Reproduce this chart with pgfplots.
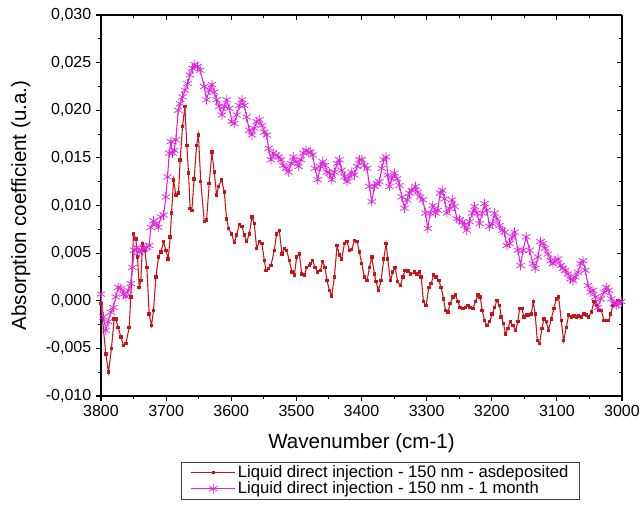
\documentclass[border=0pt]{standalone}
\usepackage{fontspec}
\setmainfont{Liberation Sans}
\usepackage{pgfplots}
\usepackage{pgfplotstable}
\pgfplotsset{compat=1.18}

\definecolor{asdepRed}{RGB}{196,22,26}
\definecolor{monthMag}{RGB}{222,36,222}

% FTIR absorption, liquid direct injection, 150 nm film
\pgfplotstableread{
wn      a
3800.0 -0.0003
3792.6 -0.0056
3788.5 -0.0075
3783.9 -0.0050
3779.8 -0.0019
3777.2 -0.0019
3773.6 -0.0028
3769.5 -0.0038
3765.4 -0.0047
3761.8 -0.0045
3756.7 -0.0028
3754.2  0.0004
3750.1  0.0070
3746.5  0.0065
3743.9  0.0046
3741.3  0.0014
3738.8  0.0021
3736.2  0.0060
3732.6  0.0053
3729.6  0.0035
3726.0 -0.0014
3722.4 -0.0026
3719.3 -0.0010
3715.7  0.0025
3711.6  0.0046
3708.0  0.0051
3703.9  0.0062
3700.4  0.0053
3696.8  0.0044
3693.7  0.0067
3691.7  0.0092
3688.6  0.0127
3685.0  0.0111
3681.0  0.0113
3678.4  0.0148
3674.8  0.0183
3671.2  0.0204
3668.2  0.0163
3665.6  0.0134
3663.1  0.0097
3660.5  0.0095
3656.9  0.0128
3653.3  0.0163
3650.4  0.0174
3646.8  0.0125
3641.4  0.0083
3637.9  0.0085
3633.8  0.0123
3629.7  0.0156
3626.1  0.0135
3622.5  0.0111
3619.4  0.0120
3614.8  0.0127
3610.7  0.0114
3607.1  0.0086
3604.0  0.0076
3599.4  0.0070
3595.3  0.0061
3591.7  0.0069
3587.6  0.0080
3583.5  0.0078
3580.0  0.0069
3576.4  0.0062
3572.3  0.0070
3568.2  0.0088
3564.6  0.0081
3561.0  0.0055
3556.9  0.0062
3552.8  0.0060
3549.2  0.0042
3546.7  0.0032
3542.6  0.0034
3539.0  0.0037
3533.9  0.0053
3530.3  0.0070
3526.2  0.0074
3522.1  0.0049
3518.5  0.0055
3514.9  0.0053
3510.8  0.0042
3506.7  0.0030
3503.1  0.0027
3499.5  0.0046
3495.4  0.0049
3491.8  0.0028
3487.7  0.0027
3484.2  0.0035
3480.1  0.0037
3478.5  0.0039
3474.9  0.0042
3471.3  0.0035
3467.2  0.0030
3463.1  0.0032
3459.5  0.0041
3456.0  0.0035
3452.9  0.0021
3449.3  0.0011
3445.7  0.0005
3441.6  0.0025
3437.5  0.0058
3433.9  0.0048
3430.4  0.0044
3426.2  0.0060
3422.2  0.0062
3418.6  0.0053
3415.0  0.0054
3410.9  0.0063
3406.8  0.0062
3403.2  0.0051
3399.6  0.0039
3395.5  0.0025
3391.4  0.0021
3387.8  0.0035
3384.2  0.0046
3380.1  0.0028
3377.6  0.0020
3374.0  0.0011
3369.9  0.0021
3365.8  0.0044
3362.2  0.0060
3359.7  0.0044
3355.6  0.0021
3352.0  0.0030
3348.4  0.0035
3344.3  0.0020
3340.2  0.0016
3336.6  0.0025
3333.0  0.0032
3328.9  0.0031
3324.8  0.0028
3318.6  0.0030
3315.1  0.0028
3311.0  0.0030
3308.4  0.0025
3304.8 -0.0001
3300.7 -0.0005
3296.6  0.0014
3293.0  0.0018
3289.4  0.0027
3285.3  0.0025
3281.2  0.0021
3277.6  0.0014
3274.1  0.0002
3271.0 -0.0010
3267.4 -0.0012
3263.8 -0.0003
3259.7  0.0004
3255.6  0.0006
3252.0 -0.0001
3248.5 -0.0007
3244.4 -0.0008
3240.3 -0.0007
3236.7 -0.0005
3233.1 -0.0007
3229.0 -0.0008
3224.9 -0.0001
3221.3  0.0006
3217.7  0.0004
3214.6 -0.0010
3211.0 -0.0021
3207.5 -0.0026
3203.4 -0.0022
3199.3 -0.0014
3195.7 -0.0007
3192.1  0.0000
3188.0 -0.0005
3185.5 -0.0017
3181.9 -0.0024
3178.8 -0.0035
3175.2 -0.0029
3171.6 -0.0022
3167.5 -0.0026
3163.4 -0.0031
3159.8 -0.0022
3157.2 -0.0008
3153.7 -0.0008
3150.6 -0.0017
3147.0 -0.0015
3143.4 -0.0015
3139.3 -0.0014
3136.2 -0.0001
3133.2 -0.0014
3130.1 -0.0042
3126.5 -0.0045
3122.9 -0.0029
3119.8 -0.0019
3116.3 -0.0022
3112.7 -0.0031
3108.6 -0.0019
3104.5 -0.0008
3100.9  0.0002
3097.3  0.0004
3093.2 -0.0021
3089.6 -0.0042
3085.5 -0.0028
3081.9 -0.0015
3077.8 -0.0017
3073.7 -0.0016
3070.1 -0.0017
3066.6 -0.0016
3062.5 -0.0017
3058.4 -0.0014
3054.8 -0.0015
3051.2 -0.0017
3047.1 -0.0012
3043.0 -0.0001
3039.4 -0.0005
3035.8 -0.0010
3031.7 -0.0010
3027.7 -0.0021
3024.0 -0.0021
3020.5 -0.0021
3017.4 -0.0014
3013.8 -0.0005
3010.2 -0.0003
3006.1  0.0000
3002.0 -0.0001
}\asdeposited

\pgfplotstableread{
wn      a
3800.0  0.0007
3796.2 -0.0017
3792.6 -0.0031
3789.0 -0.0022
3784.9 -0.0012
3780.8 -0.0007
3777.2  0.0004
3773.6  0.0014
3769.5  0.0013
3765.4  0.0007
3761.8  0.0004
3758.2  0.0011
3754.2  0.0018
3751.6  0.0035
3749.0  0.0053
3744.9  0.0056
3741.3  0.0051
3737.7  0.0053
3733.7  0.0055
3729.6  0.0056
3726.0  0.0058
3723.4  0.0077
3719.3  0.0084
3715.7  0.0081
3712.2  0.0077
3708.0  0.0088
3703.9  0.0090
3700.4  0.0109
3697.8  0.0130
3695.2  0.0155
3692.6  0.0167
3690.1  0.0155
3687.5  0.0158
3685.0  0.0169
3681.4  0.0200
3678.4  0.0207
3674.8  0.0214
3671.2  0.0221
3667.1  0.0228
3663.6  0.0237
3659.5  0.0244
3655.9  0.0248
3651.8  0.0246
3647.7  0.0242
3641.4  0.0225
3637.9  0.0211
3633.8  0.0221
3629.7  0.0227
3626.1  0.0219
3622.5  0.0211
3618.4  0.0204
3614.3  0.0195
3610.7  0.0204
3607.1  0.0211
3603.0  0.0202
3598.9  0.0188
3595.3  0.0186
3591.7  0.0195
3587.6  0.0205
3583.5  0.0211
3580.0  0.0205
3576.4  0.0193
3572.3  0.0179
3568.2  0.0174
3564.6  0.0181
3561.0  0.0188
3556.9  0.0190
3552.8  0.0184
3549.2  0.0177
3545.6  0.0174
3542.6  0.0160
3539.0  0.0148
3535.4  0.0155
3531.3  0.0153
3527.2  0.0151
3523.6  0.0148
3520.0  0.0142
3515.9  0.0139
3511.8  0.0135
3508.2  0.0144
3504.7  0.0151
3500.6  0.0146
3496.5  0.0141
3492.9  0.0148
3489.3  0.0155
3485.2  0.0158
3481.1  0.0156
3478.5  0.0156
3474.9  0.0153
3471.3  0.0139
3467.2  0.0127
3463.1  0.0141
3459.5  0.0146
3456.0  0.0142
3452.9  0.0135
3449.3  0.0134
3445.7  0.0127
3441.6  0.0135
3437.5  0.0144
3433.9  0.0148
3430.4  0.0137
3426.2  0.0130
3422.2  0.0125
3418.6  0.0130
3415.0  0.0135
3410.9  0.0132
3406.8  0.0141
3403.2  0.0148
3399.6  0.0148
3395.5  0.0142
3391.4  0.0139
3387.8  0.0120
3384.2  0.0104
3380.1  0.0120
3376.1  0.0123
3372.5  0.0125
3368.9  0.0139
3365.8  0.0148
3362.2  0.0151
3359.7  0.0132
3357.1  0.0120
3353.5  0.0128
3349.4  0.0134
3345.3  0.0128
3341.7  0.0121
3338.1  0.0109
3334.0  0.0097
3329.9  0.0106
3326.4  0.0113
3322.8  0.0116
3317.1  0.0120
3313.5  0.0114
3309.9  0.0109
3305.8  0.0106
3301.7  0.0092
3298.1  0.0076
3294.6  0.0092
3290.5  0.0100
3286.4  0.0092
3282.8  0.0095
3279.2  0.0113
3276.1  0.0116
3272.5  0.0107
3268.9  0.0092
3264.8  0.0097
3260.8  0.0106
3257.2  0.0099
3253.6  0.0086
3249.5  0.0085
3245.4  0.0083
3241.8  0.0079
3238.2  0.0074
3234.1  0.0083
3230.0  0.0092
3226.4  0.0099
3222.8  0.0092
3218.7  0.0081
3214.6  0.0092
3211.1  0.0102
3207.5  0.0095
3203.4  0.0078
3199.3  0.0081
3195.7  0.0092
3192.1  0.0086
3188.0  0.0079
3183.9  0.0074
3180.3  0.0072
3176.7  0.0058
3172.6  0.0060
3168.5  0.0067
3164.9  0.0072
3159.8  0.0053
3155.7  0.0037
3152.1  0.0053
3147.0  0.0067
3141.9  0.0053
3136.7  0.0039
3133.2  0.0034
3129.1  0.0046
3125.0  0.0062
3121.4  0.0060
3117.8  0.0055
3113.7  0.0049
3109.6  0.0042
3106.0  0.0039
3102.4  0.0042
3098.3  0.0044
3094.2  0.0037
3090.6  0.0034
3087.1  0.0032
3083.0  0.0028
3078.9  0.0023
3075.3  0.0021
3071.7  0.0025
3067.6  0.0030
3063.5  0.0039
3059.9  0.0042
3056.3  0.0032
3052.2  0.0016
3048.1  0.0009
3044.5  0.0011
3041.0  0.0004
3036.9 -0.0007
3032.8  0.0002
3027.6  0.0009
3024.0  0.0014
3020.5  0.0011
3016.4  0.0002
3012.3 -0.0003
3008.7 -0.0005
3005.1 -0.0003
3001.0 -0.0001
}\onemonth

\pgfplotsset{
  ftirframe/.style={
    scale only axis,
    width=390.75pt, height=285.75pt,
    at={(0,0)}, anchor=south west,
    x dir=reverse,
    xmin=3000, xmax=3800, ymin=-0.01, ymax=0.03,
    xtick={3000,3100,3200,3300,3400,3500,3600,3700,3800},
    ytick={-0.010,-0.005,0,0.005,0.010,0.015,0.020,0.025,0.030},
    minor x tick num=1, minor y tick num=1,
    major tick length=3.8pt, minor tick length=2.6pt,
    every tick/.style={black, line width=0.8pt},
    axis line style={black, line width=0.9pt},
    scaled y ticks=false,
    /pgf/number format/assume math mode=true,
    tick label style={font=\fontsize{12}{14}\selectfont},
    xticklabel style={/pgf/number format/1000 sep={}},
    yticklabel style={/pgf/number format/.cd, fixed, fixed zerofill,
      precision=3, use comma},
  }
}

\begin{document}
\begin{tikzpicture}
\useasboundingbox (-75.75pt,-85.5pt) rectangle (404.25pt,297pt);

% mirrored frame: top and right ticks point inwards, no labels
\begin{axis}[ftirframe,
  axis x line*=top, axis y line*=right,
  tick align=inside,
  xticklabels={}, yticklabels={}]
\end{axis}

\begin{axis}[ftirframe,
  axis x line*=bottom, axis y line*=left,
  tick align=outside,
  xlabel={Wavenumber (cm-1)},
  ylabel={Absorption coefficient (u.a.)},
  label style={font=\fontsize{15.4}{18}\selectfont},
  xlabel style={at={(axis description cs:0.5,-0.124)}, anchor=center},
  ylabel style={at={(axis description cs:-0.154,0.5)}, anchor=center},
  legend style={at={(axis description cs:0.1536,-0.173)}, anchor=north west,
    draw=black!75, line width=0.6pt, fill=white,
    font=\fontsize{12.5}{14}\selectfont,
    inner xsep=7pt, inner ysep=1pt, row sep=-1.5pt,
    nodes={inner sep=1.5pt}},
  legend cell align=left,
  legend image code/.code={%
    \draw[mark repeat=2, mark phase=2] plot coordinates {(0pt,0pt) (16.5pt,0pt) (33pt,0pt)};},
]
\addplot[asdepRed, line width=0.8pt, mark=square*, mark size=0.9pt,
  mark options={solid}] table[x=wn, y=a] {\asdeposited};
\addlegendentry{Liquid direct injection - 150 nm - asdeposited}
\addplot[monthMag, line width=0.8pt, mark=asterisk, mark size=3.6pt,
  mark options={solid, line width=0.55pt}] table[x=wn, y=a] {\onemonth};
\addlegendentry{Liquid direct injection - 150 nm - 1 month}
\end{axis}
\end{tikzpicture}
\end{document}
